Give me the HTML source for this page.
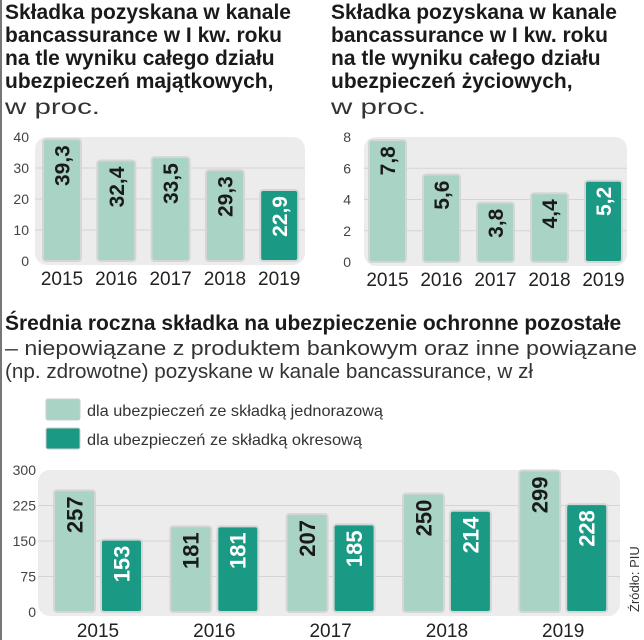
<!DOCTYPE html>
<html><head><meta charset="utf-8">
<style>
body{margin:0;background:#fff;width:644px;height:640px;overflow:hidden;font-family:"Liberation Sans",sans-serif}
svg{display:block}
.t{font-family:"Liberation Sans Narrow","Liberation Sans",sans-serif;font-weight:bold;fill:#1a1a1a}
.s{font-family:"Liberation Sans",sans-serif;fill:#333}
</style></head><body>
<svg id="c" width="644" height="640" viewBox="0 0 644 640">
<rect x="0" y="0" width="2" height="640" fill="#777"/>
<g>
<text class="t" x="5" y="19" font-size="21">Składka pozyskana w kanale</text>
<text class="t" x="5" y="42" font-size="21">bancassurance w I kw. roku</text>
<text class="t" x="5" y="65" font-size="21">na tle wyniku całego działu</text>
<text class="t" x="5" y="88" font-size="21">ubezpieczeń majątkowych,</text>
<text class="s" x="5" y="114" font-size="21" fill="#444" textLength="95" lengthAdjust="spacingAndGlyphs">w proc.</text>
</g>
<g>
<text class="t" x="331" y="19" font-size="21">Składka pozyskana w kanale</text>
<text class="t" x="331" y="42" font-size="21">bancassurance w I kw. roku</text>
<text class="t" x="331" y="65" font-size="21">na tle wyniku całego działu</text>
<text class="t" x="331" y="88" font-size="21">ubezpieczeń życiowych,</text>
<text class="s" x="331" y="114" font-size="21" fill="#444" textLength="95" lengthAdjust="spacingAndGlyphs">w proc.</text>
</g>
<g>
<text class="t" x="5" y="330" font-size="21">Średnia roczna składka na ubezpieczenie ochronne pozostałe</text>
<text class="s" x="5" y="355" font-size="20" textLength="632" lengthAdjust="spacingAndGlyphs">– niepowiązane z produktem bankowym oraz inne powiązane</text>
<text class="s" x="5" y="378" font-size="20" textLength="528" lengthAdjust="spacingAndGlyphs">(np. zdrowotne) pozyskane w kanale bancassurance, w zł</text>
</g>
<g>
<rect x="46" y="399" width="34" height="21" rx="2" fill="#a8d3c5" stroke="#ccc"/>
<text class="s" x="87" y="416" font-size="16" textLength="296" lengthAdjust="spacingAndGlyphs">dla ubezpieczeń ze składką jednorazową</text>
<rect x="46" y="428" width="34" height="21" rx="2" fill="#1a9a84" stroke="#ccc"/>
<text class="s" x="87" y="445" font-size="16" textLength="275" lengthAdjust="spacingAndGlyphs">dla ubezpieczeń ze składką okresową</text>
</g>
<text class="s" x="0" y="0" font-size="13" fill="#555" transform="translate(639,612) rotate(-90)">Źródło: PIU</text>
</svg>
<script>
const years = ["2015","2016","2017","2018","2019"];
const leftValues = [39.3, 32.4, 33.5, 29.3, 22.9];
const leftTicks = [0,10,20,30,40];
const rightValues = [7.8, 5.6, 3.8, 4.4, 5.2];
const rightTicks = [0,2,4,6,8];
const bottomSingle = [257, 181, 207, 250, 299];
const bottomPeriodic = [153, 181, 185, 214, 228];
const bottomTicks = [0,75,150,225,300];

const NS="http://www.w3.org/2000/svg";
const svg=document.getElementById('c');
function mk(tag,attrs,parent){const e=document.createElementNS(NS,tag);for(const k in attrs)e.setAttribute(k,attrs[k]);(parent||svg).appendChild(e);return e;}
const LIGHT="#a8d3c5", DARK="#1a9a84";
function fmt(v){return String(v).replace('.',',');}

function bar(g,x,w,y0,y,fill,label,dark,fs){
  const r=mk('rect',{x:x,y:y,width:w,height:y0-y,rx:3,fill:fill,stroke:'#d6d6d6','stroke-width':2},g);
  
  
  const t=mk('text',{x:0,y:0,'font-size':fs,'font-weight':'bold','font-family':'"Liberation Sans Narrow","Liberation Sans",sans-serif',fill:dark?'#fff':'#1a1a1a','text-anchor':'end',transform:`translate(${x+w/2+fs*0.36},${y+6}) rotate(-90)`},g);
  t.textContent=label;
  
  
}

function smallChart(name,x0,x1,yTop,y0,maxV,ticks,vals,tickX,barX0,step,bw){
  const g=mk('g',{});
  
  
  const sy=v=>y0-(v/maxV)*(y0-yTop);
  const bg=mk('rect',{x:x0,y:yTop,width:x1-x0,height:y0-yTop+4,rx:12,fill:'#ececec'},g);
  
  
  ticks.forEach(t=>{
    if(t>0&&t<maxV){const l=mk('line',{x1:x0,x2:x1,y1:sy(t),y2:sy(t),stroke:'#d4d4d4'},g);
      
      }
    const tx=mk('text',{x:tickX,y:sy(t)+5,'font-size':14,fill:'#444','text-anchor':'end'},g);
    tx.textContent=t;
    
    
  });
  vals.forEach((v,i)=>{
    const x=barX0+i*step;
    bar(g,x,bw,y0,sy(v),i===4?DARK:LIGHT,fmt(v),i===4,21);
    const yl=mk('text',{x:x+bw/2,y:y0+24,'font-size':19,fill:'#222','text-anchor':'middle'},g);
    yl.textContent=years[i];
    
    
  });
}
smallChart('chart-property',35,305,137,261,40,leftTicks,leftValues,29,43,54.3,38);
smallChart('chart-life',364,627,137,262,8,rightTicks,rightValues,351,369,54,37);

(function(){
  const g=mk('g',{});
  
  
  const y0=612,yTop=470,maxV=300;
  const sy=v=>y0-(v/maxV)*(y0-yTop);
  const bg=mk('rect',{x:38,y:yTop,width:582,height:y0-yTop+4,rx:12,fill:'#ececec'},g);
  
  
  bottomTicks.forEach(t=>{
    if(t>0&&t<maxV){const l=mk('line',{x1:38,x2:620,y1:sy(t),y2:sy(t),stroke:'#d4d4d4'},g);
      
      }
    const tx=mk('text',{x:36,y:sy(t)+5,'font-size':14,fill:'#444','text-anchor':'end'},g);
    tx.textContent=t;
    
    
  });
  const step=116.3,bw=41;
  years.forEach((yr,i)=>{
    const x=54+i*step;
    bar(g,x,bw,y0,sy(bottomSingle[i]),LIGHT,String(bottomSingle[i]),false,22);
    bar(g,x+47,bw,y0,sy(bottomPeriodic[i]),DARK,String(bottomPeriodic[i]),true,22);
    const yl=mk('text',{x:x+44,y:y0+25,'font-size':19,fill:'#222','text-anchor':'middle'},g);
    yl.textContent=yr;
    
    
  });
})();
</script>
</body></html>
